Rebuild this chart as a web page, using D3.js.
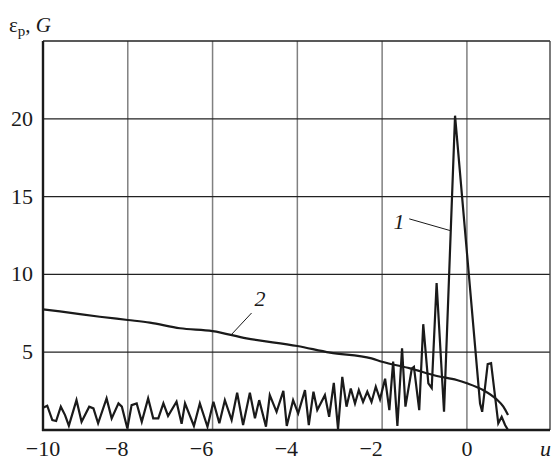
<!DOCTYPE html>
<head>
  <title>Curves 1 and 2 vs u</title>
  <style>
    body { margin: 0; background: #fff; }
    text { font-family: "Liberation Serif", "Times New Roman", serif; fill: #1a1a1a; }
  </style>
</head>

<body>

  <script src="https://cdn.jsdelivr.net/npm/d3@7"></script>

  <script>
    // data (u, value)
    var curve1U = [-10, -9.90, -9.78, -9.69, -9.58, -9.48, -9.39, -9.21, -9.09, -8.91, -8.81, -8.70,
                   -8.50, -8.38, -8.22, -8.14, -8.01, -7.91, -7.79, -7.67, -7.52, -7.40, -7.28, -7.16,
                   -7.05, -6.85, -6.73, -6.65, -6.44, -6.30, -6.12, -5.98, -5.84, -5.71, -5.55, -5.42,
                   -5.28, -5.12, -5.00, -4.90, -4.74, -4.65, -4.49, -4.33, -4.25, -4.10, -3.98, -3.82,
                   -3.73, -3.62, -3.53, -3.35, -3.25, -3.14, -3.04, -2.94, -2.84, -2.74, -2.64, -2.55,
                   -2.45, -2.35, -2.25, -2.15, -2.05, -1.93, -1.83, -1.74, -1.64, -1.53, -1.45, -1.30,
                   -1.25, -1.125, -1.03, -0.91, -0.83, -0.715, -0.54, -0.28, 0.31, 0.36, 0.49, 0.57,
                   0.74, 0.82, 0.90, 0.97];
    var curve1V = [1.43, 1.56, 0.64, 0.58, 1.5, 0.96, 0.28, 1.92, 0.53, 1.5, 1.39, 0.43,
                   2.03, 0.75, 1.71, 1.5, 0.1, 1.6, 1.71, 0.53, 2.03, 0.75, 0.75, 1.71,
                   0.9, 1.82, 0.4, 1.71, 0.26, 1.71, 0.21, 1.82, 0.43, 1.92, 0.64, 2.39,
                   0.32, 2.39, 0.75, 1.92, 0.21, 2.24, 1.17, 2.52, 0.26, 1.92, 1.07, 2.56,
                   0.32, 2.46, 1.28, 2.24, 0.85, 3.03, 0.05, 3.42, 1.5, 2.67, 1.7, 2.56,
                   1.8, 2.46, 1.8, 2.78, 1.97, 3.3, 1.28, 4.4, 0.26, 5.25, 1.5, 3.95,
                   4.06, 1.28, 6.8, 3.0, 2.7, 9.44, 1.17, 20.2, 1.7, 1.17, 4.23, 4.3,
                   0.43, 0.85, 0.32, 0.0];

    var curve2U = [-10, -9.6, -8.66, -8.0, -7.48, -6.77, -6.0, -5.2, -4.0, -3.23, -2.25, -2.0,
                   -1.34, -0.71, -0.24, 0, 0.38, 0.7, 0.86, 0.97];
    var curve2V = [7.75, 7.62, 7.28, 7.07, 6.9, 6.54, 6.36, 5.89, 5.4, 4.97, 4.6, 4.39,
                   3.96, 3.47, 3.21, 3.0, 2.57, 1.97, 1.5, 0.96];

    var xTicks = [-10, -8, -6, -4, -2, 0];
    var xTickLabels = ["\u221210", "\u22128", "\u22126", "\u22124", "\u22122", "0"];
    var yTicks = [5, 10, 15, 20];
    var yTickLabels = ["5", "10", "15", "20"];

    // dimensions of the graph (plot box in pixels)
    var width = 552, height = 460;
    var margin = {left: 43, right: 550, top: 41, bottom: 430};

    var x = d3.scaleLinear().domain([-10, 1.96]).range([margin.left, margin.right]);
    var y = d3.scaleLinear().domain([0, 25]).range([margin.bottom, margin.top]);

    var svg = d3.select("body").append("svg")
                .attr("width", width)
                .attr("height", height);

    // vertical grid lines (grey)
    svg.append("g").selectAll("line")
       .data(xTicks.slice(1))
       .enter().append("line")
       .attr("x1", function(d) { return x(d); })
       .attr("x2", function(d) { return x(d); })
       .attr("y1", y(25))
       .attr("y2", y(0))
       .attr("stroke", "#808080")
       .attr("stroke-width", 1.5);

    // horizontal grid lines (dark)
    svg.append("g").selectAll("line")
       .data(yTicks.concat([25]))
       .enter().append("line")
       .attr("x1", x(-10))
       .attr("x2", x(1.96))
       .attr("y1", function(d) { return y(d); })
       .attr("y2", function(d) { return y(d); })
       .attr("stroke", "#222")
       .attr("stroke-width", 1.3);

    // right border
    svg.append("line")
       .attr("x1", x(1.96)).attr("x2", x(1.96))
       .attr("y1", y(25)).attr("y2", y(0))
       .attr("stroke", "#444")
       .attr("stroke-width", 1.4);

    // curves
    var d1 = curve1U.map(function(u, i) { return [u, curve1V[i]]; });
    var d2 = curve2U.map(function(u, i) { return [u, curve2V[i]]; });

    var line1 = d3.line()
                  .x(function(d) { return x(d[0]); })
                  .y(function(d) { return y(d[1]); });
    var line2 = d3.line()
                  .curve(d3.curveMonotoneX)
                  .x(function(d) { return x(d[0]); })
                  .y(function(d) { return y(d[1]); });

    svg.append("path")
       .datum(d2)
       .attr("d", line2)
       .attr("fill", "none")
       .attr("stroke", "#1a1a1a")
       .attr("stroke-width", 2.2);

    svg.append("path")
       .datum(d1)
       .attr("d", line1)
       .attr("fill", "none")
       .attr("stroke", "#1a1a1a")
       .attr("stroke-width", 2.2)
       .attr("stroke-linejoin", "miter");

    // axes lines (left and bottom, heavier)
    svg.append("line")
       .attr("x1", x(-10)).attr("x2", x(-10))
       .attr("y1", y(25)).attr("y2", y(0) + 1)
       .attr("stroke", "#1a1a1a")
       .attr("stroke-width", 2.4);
    svg.append("line")
       .attr("x1", x(-10) - 1).attr("x2", x(1.96))
       .attr("y1", y(0)).attr("y2", y(0))
       .attr("stroke", "#1a1a1a")
       .attr("stroke-width", 2.4);

    // tick labels
    svg.append("g").selectAll("text")
       .data(xTicks)
       .enter().append("text")
       .attr("x", function(d) { return x(d) + ((d < 0 && d > -10) ? -11 : 0); })
       .attr("y", 456)
       .style("text-anchor", "middle")
       .style("font-size", "22px")
       .text(function(d, i) { return xTickLabels[i]; });

    svg.append("g").selectAll("text")
       .data(yTicks)
       .enter().append("text")
       .attr("x", x(-10) - 10)
       .attr("y", function(d) { return y(d) + 7; })
       .style("text-anchor", "end")
       .style("font-size", "22px")
       .text(function(d, i) { return yTickLabels[i]; });

    // axis titles
    svg.append("text")
       .attr("x", 540)
       .attr("y", 456)
       .style("font-size", "22px")
       .style("font-style", "italic")
       .text("u");

    var yl = svg.append("text")
                .attr("x", 9)
                .attr("y", 32)
                .style("font-size", "21px");
    yl.append("tspan").text("\u03b5");
    yl.append("tspan").attr("dy", 4).style("font-size", "15px").text("p");
    yl.append("tspan").attr("dy", -4).text(", ");
    yl.append("tspan").style("font-style", "italic").text("G");

    // curve labels with leader lines
    svg.append("line")
       .attr("x1", x(-1.36)).attr("y1", y(13.57))
       .attr("x2", x(-0.40)).attr("y2", y(12.82))
       .attr("stroke", "#1a1a1a").attr("stroke-width", 1);
    svg.append("text")
       .attr("x", x(-1.6))
       .attr("y", y(12.9))
       .style("text-anchor", "middle")
       .style("font-size", "22px")
       .style("font-style", "italic")
       .text("1");

    svg.append("line")
       .attr("x1", x(-5.08)).attr("y1", y(7.52))
       .attr("x2", x(-5.57)).attr("y2", y(6.09))
       .attr("stroke", "#1a1a1a").attr("stroke-width", 1);
    svg.append("text")
       .attr("x", x(-4.88))
       .attr("y", y(7.95))
       .style("text-anchor", "middle")
       .style("font-size", "22px")
       .style("font-style", "italic")
       .text("2");
  </script>

</body>
